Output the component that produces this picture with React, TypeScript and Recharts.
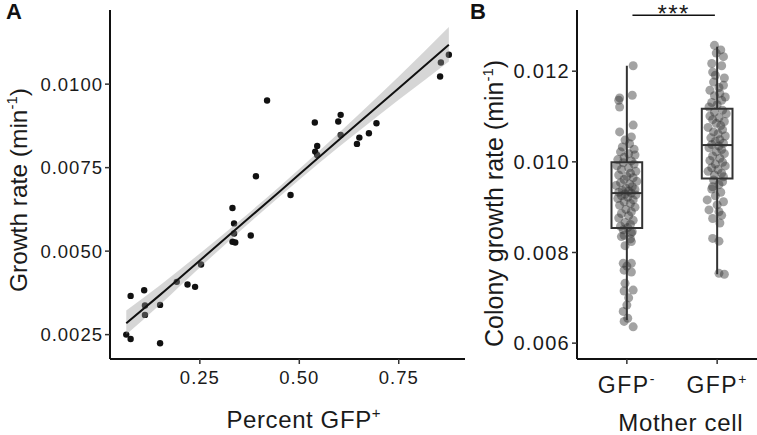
import React from "react";
import {
  ComposedChart,
  Scatter,
  Line,
  Area,
  XAxis,
  YAxis,
  ReferenceArea,
  ReferenceLine,
} from "recharts";

// Panel A: share of GFP+ cells vs growth rate, one dot per colony
const percentGfp = [
  0.419, 0.876, 0.856, 0.854, 0.539, 0.604, 0.598, 0.604, 0.694, 0.675, 0.651,
  0.645, 0.545, 0.54, 0.545, 0.391, 0.478, 0.332, 0.336, 0.336, 0.332, 0.339,
  0.378, 0.253, 0.192, 0.219, 0.238, 0.11, 0.076, 0.112, 0.15, 0.112, 0.065,
  0.076, 0.15,
];
const growthRate = [
  0.00951, 0.01088, 0.01065, 0.01023, 0.00885, 0.00908, 0.00888, 0.00848,
  0.00883, 0.00853, 0.0084, 0.00821, 0.00815, 0.00798, 0.00788, 0.00724,
  0.00668, 0.00629, 0.00583, 0.00553, 0.00528, 0.00526, 0.00547, 0.0046,
  0.00408, 0.004, 0.00393, 0.00383, 0.00366, 0.00337, 0.00339, 0.00309,
  0.0025, 0.00237, 0.00224,
];

// linear fit and its 95% band, read at a few x positions
const fitX = [0.065, 0.15, 0.25, 0.35, 0.45, 0.55, 0.65, 0.75, 0.876];
const fitY = [
  0.00284, 0.00369, 0.00472, 0.00575, 0.00678, 0.00782, 0.00885, 0.00988,
  0.01118,
];
const bandLow = [
  0.0025, 0.0034, 0.00451, 0.00559, 0.00663, 0.00764, 0.0086, 0.00953,
  0.01068,
];
const bandHigh = [
  0.00322, 0.00398, 0.00493, 0.00591, 0.00693, 0.008, 0.0091, 0.01023,
  0.01171,
];

const xTicksA = [0.25, 0.5, 0.75];
const yTicksA = [0.0025, 0.005, 0.0075, 0.01];

// Panel B: colony growth rate by mother cell
const motherCells = ["GFP-", "GFP+"];
const negRates = [
  0.01212, 0.01147, 0.01141, 0.01136, 0.01121, 0.01081, 0.01066, 0.01055,
  0.01048, 0.0104, 0.01033, 0.01028, 0.01022, 0.01018, 0.01015, 0.0101,
  0.01005, 0.01002, 0.00998, 0.00995, 0.00991, 0.00987, 0.00983, 0.00979,
  0.00975, 0.00971, 0.00968, 0.00965, 0.00961, 0.00957, 0.00954, 0.00951,
  0.00948, 0.00945, 0.00942, 0.00939, 0.00937, 0.00935, 0.00933, 0.00931,
  0.00929, 0.00927, 0.00925, 0.00922, 0.00919, 0.00916, 0.00912, 0.00908,
  0.00904, 0.009, 0.00895, 0.0089, 0.00886, 0.00881, 0.00876, 0.00871,
  0.00866, 0.00862, 0.00858, 0.00855, 0.0085, 0.00846, 0.00843, 0.00838,
  0.00835, 0.0083, 0.00824, 0.00815, 0.00776, 0.00776, 0.0077, 0.00761,
  0.00757, 0.00732, 0.00717, 0.00715, 0.007, 0.00684, 0.0067, 0.00655,
  0.00648, 0.00636,
];
const negJitter = [
  0.07, 0.06, -0.08, -0.09, -0.08, 0.07, -0.08, 0.05, -0.02, 0.03, -0.05, 0.08,
  -0.07, 0.02, 0.09, -0.03, -0.1, 0.05, -0.04, 0.08, -0.11, 0.02, -0.06, 0.1,
  0.04, -0.09, 0.0, 0.07, -0.03, 0.11, -0.07, 0.03, -0.12, 0.06, -0.01, 0.09,
  -0.05, 0.02, -0.09, 0.05, -0.02, 0.1, -0.06, 0.01, -0.1, 0.07, -0.03, 0.04,
  -0.08, 0.09, -0.01, 0.05, -0.06, 0.02, -0.09, 0.07, -0.02, 0.04, -0.07, 0.01,
  -0.04, 0.06, 0.05, -0.03, -0.06, 0.04, 0.05, -0.02, -0.04, 0.05, 0.0, -0.03,
  0.05, -0.02, 0.07, -0.03, 0.02, 0.0, -0.04, 0.01, -0.03, 0.07,
];
const posRates = [
  0.01257, 0.01247, 0.0124, 0.01232, 0.01217, 0.01212, 0.01198, 0.01191,
  0.01185, 0.01176, 0.01169, 0.01164, 0.01158, 0.01151, 0.01146, 0.01143,
  0.01136, 0.01131, 0.01126, 0.01121, 0.01114, 0.0111, 0.01106, 0.01101,
  0.01097, 0.01093, 0.01089, 0.01085, 0.0108, 0.01076, 0.01071, 0.01066,
  0.01062, 0.01057, 0.01053, 0.01049, 0.01045, 0.01041, 0.01038, 0.01035,
  0.01031, 0.01027, 0.01022, 0.01018, 0.01013, 0.01008, 0.01003, 0.00999,
  0.00995, 0.00991, 0.00987, 0.00983, 0.00979, 0.00975, 0.00971, 0.00967,
  0.0096, 0.00956, 0.0095, 0.00945, 0.0094, 0.00933, 0.00925, 0.00916,
  0.00912, 0.00905, 0.00894, 0.0089, 0.00882, 0.00875, 0.00865, 0.00831,
  0.00825, 0.00754, 0.00752,
];
const posJitter = [
  -0.03, 0.04, -0.01, 0.07, -0.06, 0.05, -0.05, -0.02, 0.08, -0.04, 0.07, 0.02,
  -0.08, 0.03, -0.03, 0.09, 0.05, -0.06, 0.0, -0.09, 0.06, -0.03, 0.1, -0.08,
  0.02, -0.05, 0.08, -0.01, 0.04, -0.1, 0.06, -0.04, 0.01, 0.09, -0.07, 0.03,
  -0.02, 0.07, -0.06, 0.02, -0.09, 0.05, -0.01, 0.08, -0.05, 0.03, -0.08, 0.06,
  -0.02, 0.09, -0.06, 0.01, -0.1, 0.05, -0.03, 0.07, -0.04, 0.06, 0.02, -0.05,
  -0.06, 0.04, -0.02, -0.11, 0.07, 0.0, -0.09, 0.02, 0.05, -0.05, 0.03, -0.05,
  0.02, 0.02, 0.08,
];

// box plot summaries, GFP- then GFP+
const boxLower = [0.00651, 0.00752];
const boxQ1 = [0.00854, 0.00963];
const boxMedian = [0.00931, 0.01037];
const boxQ3 = [0.00999, 0.01117];
const boxUpper = [0.01212, 0.01254];

const yTicksB = [0.006, 0.008, 0.01, 0.012];

const FONT = "'Liberation Sans', Arial, Helvetica, sans-serif";
const INK = "#1a1a1a";
const BOX_HALF = 0.17;
const X_DOMAIN_A: [number, number] = [0.0241, 0.9166];
const Y_DOMAIN_A: [number, number] = [0.00177, 0.01222];

const scatterA = percentGfp.map((x, i) => ({ x, y: growthRate[i] }));
const fitData = fitX.map((x, i) => ({
  x,
  fit: fitY[i],
  band: [bandLow[i], bandHigh[i]],
}));
const jitterB = [
  ...negRates.map((y, i) => ({ x: 1 + negJitter[i], y })),
  ...posRates.map((y, i) => ({ x: 2 + posJitter[i], y })),
];

const Dot = (props: any) => (
  <circle cx={props.cx} cy={props.cy} r={3.2} fill="#111" />
);

const GreyDot = (props: any) => (
  <circle cx={props.cx} cy={props.cy} r={4.5} fill="#333" fillOpacity={0.45} />
);

const MotherTick = (props: any) => {
  const { x, y, payload } = props;
  const label = motherCells[payload.value - 1] || "";
  return (
    <text
      x={x}
      y={y}
      dy={27}
      textAnchor="middle"
      fontFamily={FONT}
      fontSize={23}
      letterSpacing={1.5}
      fill={INK}
    >
      {label.slice(0, -1)}
      <tspan dy={-9} fontSize={14}>
        {label.slice(-1)}
      </tspan>
    </text>
  );
};

const GrowthLabel = () => (
  <text
    x={26.7}
    y={190}
    transform="rotate(-90, 26.7, 190)"
    textAnchor="middle"
    fontFamily={FONT}
    fontSize={24.5}
    fill={INK}
  >
    Growth rate (min
    <tspan dy={-10} fontSize={15}>
      -1
    </tspan>
    <tspan dy={10}>)</tspan>
  </text>
);

const PercentLabel = () => (
  <text
    x={303.8}
    y={428}
    textAnchor="middle"
    fontFamily={FONT}
    fontSize={24}
    letterSpacing={0.6}
    fill={INK}
  >
    Percent GFP
    <tspan dy={-10} fontSize={15}>
      +
    </tspan>
  </text>
);

const ColonyLabel = () => (
  <text
    x={33.5}
    y={203.4}
    transform="rotate(-90, 33.5, 203.4)"
    textAnchor="middle"
    fontFamily={FONT}
    fontSize={25}
    fill={INK}
  >
    Colony growth rate (min
    <tspan dy={-10} fontSize={15}>
      -1
    </tspan>
    <tspan dy={10}>)</tspan>
  </text>
);

const MotherLabel = () => (
  <text
    x={210.8}
    y={431}
    textAnchor="middle"
    fontFamily={FONT}
    fontSize={24}
    letterSpacing={0.7}
    fill={INK}
  >
    Mother cell
  </text>
);

const axisLine = { stroke: "#111", strokeWidth: 2 };
const tickLine = { stroke: "#333", strokeWidth: 1.5 };

const GrowthScatter: React.FC = () => (
  <ComposedChart
    width={470}
    height={435}
    margin={{ top: 10, right: 5, left: 50, bottom: 0 }}
  >
    <XAxis
      type="number"
      dataKey="x"
      domain={X_DOMAIN_A}
      allowDataOverflow
      ticks={xTicksA}
      tickFormatter={(v: number) => v.toFixed(2)}
      axisLine={axisLine}
      tickLine={tickLine}
      tickSize={5}
      tickMargin={7}
      height={76}
      tick={{ fill: INK, fontSize: 18.5, fontFamily: FONT, letterSpacing: 1 }}
      label={<PercentLabel />}
    />
    <YAxis
      type="number"
      dataKey="y"
      domain={Y_DOMAIN_A}
      allowDataOverflow
      ticks={yTicksA}
      tickFormatter={(v: number) => v.toFixed(4)}
      axisLine={axisLine}
      tickLine={tickLine}
      tickSize={5}
      tickMargin={2}
      width={60}
      tick={{ fill: INK, fontSize: 18.5, fontFamily: FONT, letterSpacing: 1 }}
      label={<GrowthLabel />}
    />
    <Scatter data={scatterA} shape={Dot} isAnimationActive={false} />
  </ComposedChart>
);

// the fit band sits over the dots (as in ggplot), so it gets its own layer
const GrowthFit: React.FC = () => (
  <ComposedChart
    width={470}
    height={435}
    margin={{ top: 10, right: 5, left: 110, bottom: 76 }}
  >
    <XAxis type="number" dataKey="x" domain={X_DOMAIN_A} allowDataOverflow hide />
    <YAxis type="number" domain={Y_DOMAIN_A} allowDataOverflow hide />
    <Area
      data={fitData}
      dataKey="band"
      type="monotone"
      stroke="none"
      fill="#999999"
      fillOpacity={0.4}
      isAnimationActive={false}
    />
    <Line
      data={fitData}
      dataKey="fit"
      type="monotone"
      stroke="#111"
      strokeWidth={2}
      dot={false}
      isAnimationActive={false}
    />
  </ComposedChart>
);

const MotherBoxes: React.FC = () => (
  <ComposedChart
    width={298}
    height={435}
    margin={{ top: 10, right: 1, left: 47, bottom: 0 }}
  >
    <XAxis
      type="number"
      dataKey="x"
      domain={[0.448, 2.552]}
      allowDataOverflow
      ticks={[1, 2]}
      axisLine={axisLine}
      tickLine={tickLine}
      tickSize={5}
      tickMargin={2}
      height={76}
      tick={<MotherTick />}
      label={<MotherLabel />}
    />
    <YAxis
      type="number"
      dataKey="y"
      domain={[0.00565, 0.01335]}
      allowDataOverflow
      ticks={yTicksB}
      tickFormatter={(v: number) => v.toFixed(3)}
      axisLine={axisLine}
      tickLine={tickLine}
      tickSize={5}
      tickMargin={2}
      width={60}
      tick={{ fill: INK, fontSize: 20, fontFamily: FONT, letterSpacing: 1.3 }}
      label={<ColonyLabel />}
    />
    <Scatter data={jitterB} shape={GreyDot} isAnimationActive={false} />
    {motherCells.map((_, i) => (
      <ReferenceLine
        key={`lo${i}`}
        segment={[
          { x: i + 1, y: boxLower[i] },
          { x: i + 1, y: boxQ1[i] },
        ]}
        stroke="#333"
        strokeWidth={2}
      />
    ))}
    {motherCells.map((_, i) => (
      <ReferenceLine
        key={`hi${i}`}
        segment={[
          { x: i + 1, y: boxQ3[i] },
          { x: i + 1, y: boxUpper[i] },
        ]}
        stroke="#333"
        strokeWidth={2}
      />
    ))}
    {motherCells.map((_, i) => (
      <ReferenceArea
        key={`box${i}`}
        x1={i + 1 - BOX_HALF}
        x2={i + 1 + BOX_HALF}
        y1={boxQ1[i]}
        y2={boxQ3[i]}
        fill="none"
        fillOpacity={0}
        stroke="#333"
        strokeWidth={2}
      />
    ))}
    {motherCells.map((_, i) => (
      <ReferenceLine
        key={`med${i}`}
        segment={[
          { x: i + 1 - BOX_HALF, y: boxMedian[i] },
          { x: i + 1 + BOX_HALF, y: boxMedian[i] },
        ]}
        stroke="#333"
        strokeWidth={2}
      />
    ))}
    <ReferenceLine
      segment={[
        { x: 1.062, y: 0.013235 },
        { x: 1.975, y: 0.013235 },
      ]}
      stroke="#111"
      strokeWidth={1.5}
      label={{
        value: "***",
        position: "top",
        offset: -7,
        fontSize: 24,
        letterSpacing: 1.5,
        fill: INK,
        fontFamily: FONT,
      }}
    />
  </ComposedChart>
);

export default function App() {
  return (
    <div
      style={{
        position: "fixed",
        left: 0,
        top: 0,
        width: 757,
        height: 435,
        overflow: "hidden",
        background: "#fff",
      }}
    >
      <div style={{ position: "absolute", left: 0, top: 0 }}>
        <GrowthScatter />
      </div>
      <div style={{ position: "absolute", left: 0, top: 0, pointerEvents: "none" }}>
        <GrowthFit />
      </div>
      <div style={{ position: "absolute", left: 470, top: 0 }}>
        <MotherBoxes />
      </div>
      <svg
        width={757}
        height={435}
        style={{ position: "absolute", left: 0, top: 0, pointerEvents: "none" }}
      >
        <text x={6} y={19} fontFamily={FONT} fontWeight="bold" fontSize={22} fill="#111">
          A
        </text>
        <text x={470} y={19} fontFamily={FONT} fontWeight="bold" fontSize={22} fill="#111">
          B
        </text>
      </svg>
    </div>
  );
}
